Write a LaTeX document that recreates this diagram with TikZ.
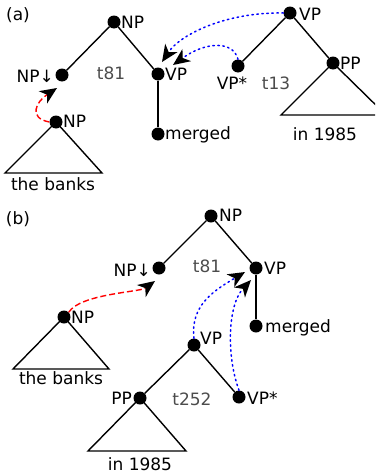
\documentclass[tikz,border=0pt]{standalone}
\usepackage{fontspec}
\setmainfont{DejaVu Sans}
\usetikzlibrary{arrows.meta}
\begin{document}
\begin{tikzpicture}[x=1pt,y=-1pt,
  dot/.style={circle,fill=black,inner sep=0pt,minimum size=13pt},
  lbl/.style={font=\fontsize{17}{20}\selectfont,inner sep=0pt},
  tname/.style={font=\fontsize{17}{20}\selectfont,inner sep=0pt,text=black!70},
  edge/.style={line width=1.4pt},
  tip/.style={-{Stealth[black,length=17pt,width=15pt,inset=5pt,line width=0pt]}},
  redarr/.style={tip,red,line width=1.4pt,dash pattern=on 6pt off 3pt},
  bluearr/.style={tip,blue,line width=1.5pt,dash pattern=on 1.5pt off 3.5pt,line cap=round}]
\useasboundingbox (0,0) rectangle (375,474);
\clip (0,0) rectangle (375,474);
% ---------------- (a)
\node[lbl] (la) at (18,15) {(a)};
\node[dot] (anp) at (114,22) {};
\node[dot] (anpd) at (62,75) {};
\node[dot] (avp) at (158,74) {};
\node[dot] (amg) at (158,134) {};
\node[dot] (anpb) at (56,122) {};
\node[lbl,anchor=west] (anpL) at (121,22) {NP};
\node[lbl,anchor=east] (anpdL) at (54,76) {NP↓};
\node[lbl,anchor=west] (avpL) at (165,74) {VP};
\node[lbl,anchor=west] (amgL) at (165,135) {merged};
\node[lbl,anchor=west] (anpbL) at (63,121) {NP};
\node[tname] (at81) at (111,73) {t81};
\node[lbl] (abanks) at (53,184) {the banks};
\draw[edge] (anp) -- (anpd);
\draw[edge] (anp) -- (avp);
\draw[edge] (avp) -- (amg);
\draw[edge] (anpb.center) -- (5,173) -- (102,173) -- cycle;
\node[dot] (avpr) at (290,13) {};
\node[dot] (avps) at (238,66) {};
\node[dot] (app) at (333,63) {};
\node[lbl,anchor=west] (avprL) at (299,14) {VP};
\node[lbl] (avpsL) at (232,83) {VP*};
\node[tname] (at13) at (276,83) {t13};
\node[lbl,anchor=west] (appL) at (340,63) {PP};
\node[lbl] (a1985) at (325,134) {in 1985};
\draw[edge] (avpr) -- (avps);
\draw[edge] (avpr) -- (app);
\draw[edge] (app.center) -- (281,115) -- (386,115) -- cycle;
\coordinate (ara) at (57,88);
\draw[redarr] (anpb.west) .. controls (28,118) and (36,102) .. (ara);
\coordinate (aba) at (162,62);
\coordinate (abb) at (173,65);
\draw[bluearr] (avpr.west) .. controls (225,12) and (180,35) .. (aba);
\draw[bluearr] (avps.north) .. controls (233,40) and (205,42) .. (abb);
% ---------------- (b)
\node[lbl] (lb) at (18,219) {(b)};
\node[dot] (bnp) at (211,216) {};
\node[dot] (bnpd) at (159,268) {};
\node[dot] (bvp) at (256,268) {};
\node[dot] (bmg) at (256,326) {};
\node[lbl,anchor=west] (bnpL) at (219,215) {NP};
\node[lbl,anchor=east] (bnpdL) at (151,270) {NP↓};
\node[lbl,anchor=west] (bvpL) at (264,268) {VP};
\node[lbl,anchor=west] (bmgL) at (265,328) {merged};
\node[tname] (bt81) at (207,266) {t81};
\draw[edge] (bnp) -- (bnpd);
\draw[edge] (bnp) -- (bvp);
\draw[edge] (bvp) -- (bmg);
\node[dot] (bnpb) at (64,317) {};
\node[lbl,anchor=west] (bnpbL) at (71,317) {NP};
\draw[edge] (bnpb.center) -- (13,369) -- (109,369) -- cycle;
\node[lbl] (bbanks) at (61,378) {the banks};
\node[dot] (bvpm) at (194,345) {};
\node[dot] (bpp) at (140,398) {};
\node[dot] (bvps) at (239,397) {};
\node[lbl,anchor=west] (bvpmL) at (200,338) {VP};
\node[lbl,anchor=east] (bppL) at (132,398) {PP};
\node[lbl,anchor=west] (bvpsL) at (247,398) {VP*};
\node[tname] (bt252) at (192,399) {t252};
\draw[edge] (bvpm) -- (bpp);
\draw[edge] (bvpm) -- (bvps);
\draw[edge] (bpp.center) -- (88,451) -- (186,451) -- cycle;
\node[lbl] (b1985) at (140,464) {in 1985};
\coordinate (bra) at (155,281);
\draw[redarr] (bnpb.north east) .. controls (80,294) and (140,292) .. (bra);
\coordinate (bba) at (245,272);
\coordinate (bbb) at (251,280);
\draw[bluearr] (bvpm.north) .. controls (190,305) and (215,290) .. (bba);
\draw[bluearr] (bvps.north) .. controls (226,355) and (228,305) .. (bbb);
\end{tikzpicture}
\end{document}
